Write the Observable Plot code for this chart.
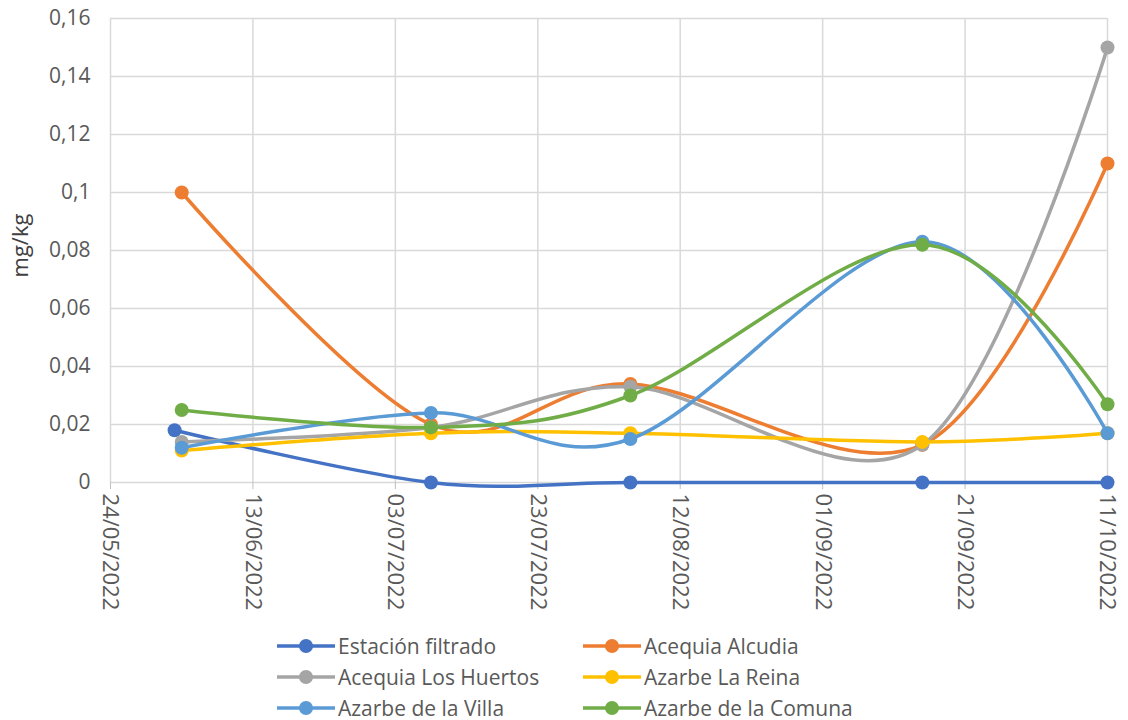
<!DOCTYPE html>
<html>
<head>
<meta charset="utf-8">
<script src="https://cdn.jsdelivr.net/npm/d3@7"></script>
<script src="https://cdn.jsdelivr.net/npm/@observablehq/plot@0.6"></script>
<style>
  html, body { margin: 0; padding: 0; background: #fff; }
  body { width: 1128px; height: 720px; overflow: hidden; font-family: "Open Sans", sans-serif; }
  #legend { position: relative; height: 88px; color: #595959; font-size: 21px; }
  .item { position: absolute; display: flex; align-items: center; height: 24px; line-height: 24px; }
  .item svg { margin-right: 3px; }
</style>
</head>
<body>
<div id="chart"></div>
<div id="legend"></div>
<script>
// ---- data ----
const seriesNames = ["Estación filtrado", "Acequia Alcudia", "Acequia Los Huertos", "Azarbe La Reina", "Azarbe de la Villa", "Azarbe de la Comuna"];
const seriesColors = ["#4472C4", "#ED7D31", "#A5A5A5", "#FFC000", "#5B9BD5", "#70AD47"];
const sampleDates = ["2022-06-03", "2022-07-08", "2022-08-05", "2022-09-15", "2022-10-11"];
const estacionFirstDate = "2022-06-02";
const estacionFiltrado = [0.018, 0, 0, 0, 0];
const acequiaAlcudia = [0.100, 0.020, 0.034, 0.013, 0.110];
const acequiaLosHuertos = [0.014, 0.019, 0.033, 0.013, 0.150];
const azarbeLaReina = [0.011, 0.017, 0.017, 0.014, 0.017];
const azarbeDeLaVilla = [0.012, 0.024, 0.015, 0.083, 0.017];
const azarbeDeLaComuna = [0.025, 0.019, 0.030, 0.082, 0.027];
const xTickDates = ["2022-05-24", "2022-06-13", "2022-07-03", "2022-07-23", "2022-08-12", "2022-09-01", "2022-09-21", "2022-10-11"];
const yTickValues = [0, 0.02, 0.04, 0.06, 0.08, 0.1, 0.12, 0.14, 0.16];
const yLabel = "mg/kg";

const seriesValues = [estacionFiltrado, acequiaAlcudia, acequiaLosHuertos, azarbeLaReina, azarbeDeLaVilla, azarbeDeLaComuna];
const rows = seriesValues.map((vals, i) => vals.map((v, j) => ({
  series: seriesNames[i],
  date: new Date(i === 0 && j === 0 ? estacionFirstDate : sampleDates[j]),
  value: v
})));

const xTicks = xTickDates.map(d => new Date(d));
const fmtDate = d3.utcFormat("%d/%m/%Y");
const fmtY = d => d === 0 ? "0" : String(+d.toFixed(2)).replace(".", ",");
const gridColor = "#d9d9d9";

const marks = [
  Plot.gridY({ticks: yTickValues, stroke: gridColor, strokeOpacity: 1, strokeWidth: 1.5}),
  Plot.gridX({ticks: xTicks, stroke: gridColor, strokeOpacity: 1, strokeWidth: 1.5}),
  Plot.axisY({ticks: yTickValues, tickFormat: fmtY, tickSize: 0, tickPadding: 20, fontSize: 21, label: null}),
  Plot.text([yLabel], {frameAnchor: "left", textAnchor: "middle", rotate: -90, dx: -90, dy: -5, fontSize: 22, fill: "#404040"}),
  Plot.axisX({ticks: xTicks, tickFormat: fmtDate, tickRotate: 90, tickSize: 7, tickPadding: 4,
    stroke: "#bfbfbf", fontSize: 22, label: null}),
];
rows.forEach((data, i) => {
  marks.push(Plot.line(data, {x: "date", y: "value", stroke: seriesColors[i], strokeWidth: 3.5, curve: "cardinal"}));
  marks.push(Plot.dot(data, {x: "date", y: "value", fill: seriesColors[i], r: 7}));
});

const chart = Plot.plot({
  width: 1128,
  height: 632,
  marginLeft: 110,
  marginRight: 21,
  marginTop: 18,
  marginBottom: 150,
  style: {fontFamily: "Open Sans, sans-serif", color: "#595959", background: "#fff"},
  x: {type: "utc", domain: [new Date(xTickDates[0]), new Date(xTickDates[xTickDates.length - 1])]},
  y: {domain: [0, 0.16]},
  marks
});
document.getElementById("chart").appendChild(chart);

// legend
const legend = document.getElementById("legend");
const colLeft = [277, 583];
seriesNames.forEach((name, i) => {
  const div = document.createElement("div");
  div.className = "item";
  div.style.left = colLeft[i % 2] + "px";
  div.style.top = (2 + Math.floor(i / 2) * 31) + "px";
  const c = seriesColors[i];
  div.innerHTML = `<svg width="58" height="16"><line x1="0" x2="58" y1="8" y2="8" stroke="${c}" stroke-width="3.5"/><circle cx="29" cy="8" r="7" fill="${c}"/></svg><span>${name}</span>`;
  legend.appendChild(div);
});
</script>
</body>
</html>
